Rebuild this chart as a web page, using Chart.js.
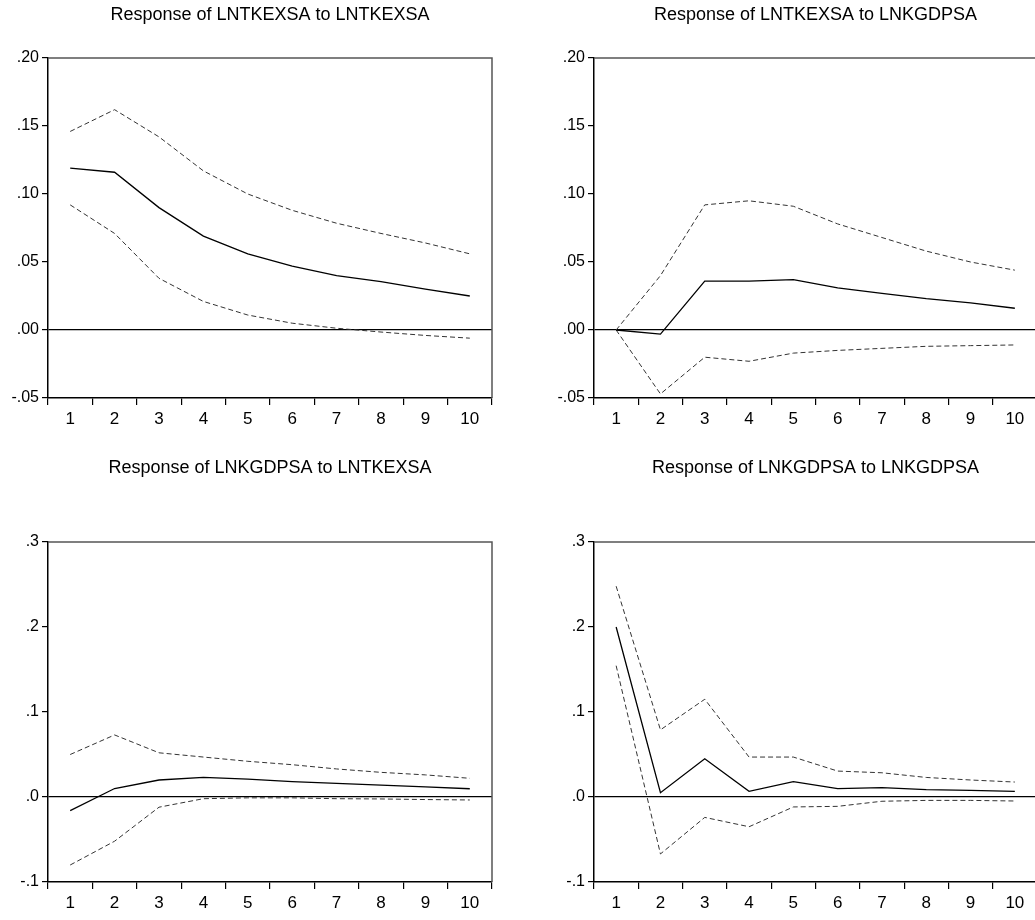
<!DOCTYPE html>
<html>
<head>
<meta charset="utf-8">
<script src="https://cdn.jsdelivr.net/npm/chart.js@4"></script>
<style>
  html, body { margin: 0; padding: 0; background: #fff; overflow: hidden; }
  #wrap { position: relative; width: 1035px; height: 920px; overflow: hidden; }
  #wrap div { position: absolute; }
</style>
</head>
<body>
<div id="wrap">
  <div style="left:0px;top:0px;width:540px;height:440px"><canvas id="c1"></canvas></div>
  <div style="left:546px;top:0px;width:539px;height:440px"><canvas id="c2"></canvas></div>
  <div style="left:0px;top:440px;width:540px;height:480px"><canvas id="c3"></canvas></div>
  <div style="left:546px;top:440px;width:539px;height:480px"><canvas id="c4"></canvas></div>
</div>
<script>
// periods after the shock
const periods = ['1', '2', '3', '4', '5', '6', '7', '8', '9', '10'];

// Response of LNTKEXSA to LNTKEXSA
const tkToTk = [0.119, 0.116, 0.090, 0.069, 0.056, 0.047, 0.040, 0.0355, 0.030, 0.025];
const tkToTkUpper = [0.146, 0.162, 0.142, 0.117, 0.100, 0.088, 0.0785, 0.071, 0.064, 0.056];
const tkToTkLower = [0.092, 0.071, 0.038, 0.021, 0.011, 0.005, 0.0013, -0.0015, -0.004, -0.006];

// Response of LNTKEXSA to LNKGDPSA
const tkToGdp = [0.0, -0.003, 0.036, 0.036, 0.037, 0.031, 0.027, 0.023, 0.020, 0.016];
const tkToGdpUpper = [0.0, 0.040, 0.092, 0.095, 0.091, 0.078, 0.068, 0.058, 0.050, 0.044];
const tkToGdpLower = [0.0, -0.047, -0.020, -0.023, -0.017, -0.015, -0.0135, -0.012, -0.0115, -0.011];

// Response of LNKGDPSA to LNTKEXSA
const gdpToTk = [-0.016, 0.010, 0.020, 0.023, 0.021, 0.018, 0.016, 0.014, 0.012, 0.0097];
const gdpToTkUpper = [0.050, 0.073, 0.052, 0.047, 0.042, 0.038, 0.033, 0.029, 0.026, 0.022];
const gdpToTkLower = [-0.080, -0.052, -0.012, -0.002, -0.001, -0.001, -0.002, -0.0023, -0.003, -0.0035];

// Response of LNKGDPSA to LNKGDPSA
const gdpToGdp = [0.200, 0.005, 0.045, 0.0066, 0.018, 0.0098, 0.011, 0.0086, 0.0078, 0.0066];
const gdpToGdpUpper = [0.248, 0.079, 0.115, 0.047, 0.047, 0.0305, 0.0285, 0.023, 0.020, 0.0176];
const gdpToGdpLower = [0.1545, -0.067, -0.024, -0.035, -0.0117, -0.011, -0.005, -0.004, -0.004, -0.0047];

// y tick labels, bottom to top
const yLabelsTop = ['-.05', '.00', '.05', '.10', '.15', '.20'];
const yLabelsBottom = ['-.1', '.0', '.1', '.2', '.3'];

Chart.defaults.font.family = 'Arial, "Liberation Sans", sans-serif';
Chart.defaults.color = '#000';

// draw the top and right sides of the plot box
const frame = {
  id: 'frame',
  afterDraw(chart) {
    const a = chart.chartArea;
    const ctx = chart.ctx;
    ctx.save();
    ctx.strokeStyle = '#555';
    ctx.lineWidth = 1.5;
    ctx.beginPath();
    ctx.moveTo(a.left, a.top);
    ctx.lineTo(a.right, a.top);
    ctx.lineTo(a.right, a.bottom);
    ctx.stroke();
    ctx.restore();
  }
};

function makeChart(id, title, mid, upper, lower, yMin, yMax, yStep, yLabels, titleTop, titleBottom, xHeight) {
  const band = {
    borderColor: '#333',
    borderWidth: 1,
    borderDash: [5, 3],
    pointRadius: 0,
    fill: false,
    tension: 0
  };
  new Chart(document.getElementById(id), {
    type: 'line',
    data: {
      labels: periods,
      datasets: [
        Object.assign({ label: 'upper', data: upper }, band),
        { label: 'response', data: mid, borderColor: '#000', borderWidth: 1.3, pointRadius: 0, fill: false, tension: 0 },
        Object.assign({ label: 'lower', data: lower }, band)
      ]
    },
    options: {
      responsive: true,
      maintainAspectRatio: false,
      animation: false,
      layout: { padding: { left: 0, right: 0, top: 0, bottom: 2 } },
      plugins: {
        legend: { display: false },
        tooltip: { enabled: false },
        title: {
          display: true,
          text: title,
          color: '#000',
          font: { size: 18, weight: 'normal' },
          padding: { top: titleTop, bottom: titleBottom }
        }
      },
      scales: {
        x: {
          type: 'category',
          offset: true,
          afterFit: s => { s.height = xHeight; },
          grid: { offset: true, drawOnChartArea: false, drawTicks: true, tickLength: 7, color: '#000', lineWidth: 1.2 },
          border: { display: true, color: '#000', width: 1.5 },
          ticks: { font: { size: 17 }, padding: 4, maxRotation: 0, autoSkip: false, color: '#000' }
        },
        y: {
          min: yMin,
          max: yMax,
          afterFit: s => { s.width = 48; },
          grid: {
            drawOnChartArea: true,
            drawTicks: true,
            tickLength: 6,
            tickColor: '#000',
            lineWidth: 1.2,
            color: c => (c.tick && Math.abs(c.tick.value) < 1e-9) ? '#000' : 'rgba(0,0,0,0)'
          },
          border: { display: true, color: '#000', width: 1.5 },
          ticks: {
            stepSize: yStep,
            padding: 3,
            font: { size: 16 },
            color: '#000',
            callback: (v, i) => yLabels[i]
          }
        },
        // empty right axis so the title centres over the plot box
        yRight: {
          position: 'right',
          display: true,
          min: yMin,
          max: yMax,
          afterFit: s => { s.width = 48; },
          grid: { drawOnChartArea: false, drawTicks: false },
          border: { display: false },
          ticks: { display: false }
        }
      }
    },
    plugins: [frame]
  });
}

makeChart('c1', 'Response of LNTKEXSA to LNTKEXSA', tkToTk, tkToTkUpper, tkToTkLower,
  -0.05, 0.20, 0.05, yLabelsTop, 4.2, 32.2, 40);
makeChart('c2', 'Response of LNTKEXSA to LNKGDPSA', tkToGdp, tkToGdpUpper, tkToGdpLower,
  -0.05, 0.20, 0.05, yLabelsTop, 4.2, 32.2, 40);
makeChart('c3', 'Response of LNKGDPSA to LNTKEXSA', gdpToTk, gdpToTkUpper, gdpToTkLower,
  -0.1, 0.3, 0.1, yLabelsBottom, 17.2, 63.2, 36);
makeChart('c4', 'Response of LNKGDPSA to LNKGDPSA', gdpToGdp, gdpToGdpUpper, gdpToGdpLower,
  -0.1, 0.3, 0.1, yLabelsBottom, 17.2, 63.2, 36);
</script>
</body>
</html>
